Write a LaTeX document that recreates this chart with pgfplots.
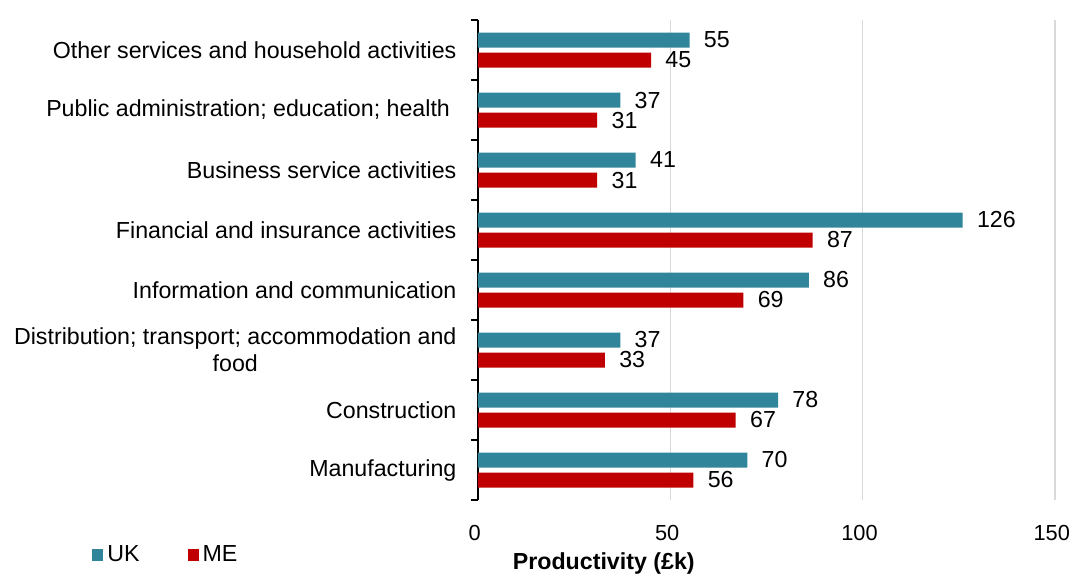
\documentclass[border=0pt]{standalone}
\usepackage{pgfplots}
\pgfplotsset{compat=1.18}
\usepackage{fontspec}
\setmainfont{Liberation Sans}

\definecolor{ukteal}{RGB}{49,133,155}
\definecolor{mered}{RGB}{192,0,0}
\definecolor{gridgrey}{RGB}{217,217,217}

\newcommand{\chartfont}{\fontsize{11.6}{13.5}\selectfont}

\begin{document}
\begin{tikzpicture}[font=\chartfont]
\begin{axis}[
    at={(0,0)}, anchor=south west,
    scale only axis,
    width=288.5pt, height=240pt,
    xbar, bar width=7.5pt,
    xmin=0, xmax=150,
    ymin=-0.5, ymax=7.5,
    /pgf/number format/assume math mode=true,
    xtick={0,50,100,150},
    xmajorgrids, grid style={gridgrey, line width=0.8pt},
    major x tick style={draw=none},
    xticklabel style={font=\fontsize{10.9}{13}\selectfont, yshift=-5pt, xshift=-1.6pt},
    ytick={0,...,7},
    yticklabels={Manufacturing, Construction, {Distribution; transport; accommodation and\\food}, Information and communication, Financial and insurance activities, Business service activities, Public administration; education; health~, Other services and household activities},
    yticklabel style={font=\chartfont, align=center, xshift=-3pt},
    major y tick style={draw=none},
    minor ytick={-0.5,0.5,...,7.5},
    minor tick length=3.5pt,
    tick align=outside,
    minor y tick style={black, line width=0.8pt},
    axis x line*=bottom,
    x axis line style={draw=none},
    axis y line*=left,
    y axis line style={black, line width=0.8pt},
    clip=false,
    nodes near coords,
    every node near coord/.append style={font=\chartfont, anchor=west, inner sep=0pt, xshift=7pt, black},
    xlabel={\textbf{Productivity (£k)}},
    xlabel style={at={(rel axis cs:0.218,0)}, anchor=center, yshift=-31.5pt, font=\chartfont},
    legend style={at={(-193pt,-27.5pt)}, anchor=west, draw=none, fill=none, font=\chartfont,
        legend columns=2, /tikz/every even column/.append style={column sep=22pt},
        inner sep=0pt},
    legend image code/.code={\fill[#1] (0pt,-3.2pt) rectangle (5.5pt,3.2pt);},
]
\addplot[fill=ukteal, draw=none, bar shift=5pt] coordinates {
    (70,0) (78,1) (37,2) (86,3) (126,4) (41,5) (37,6) (55,7)};
\addlegendentry{UK}
\addplot[fill=mered, draw=none, bar shift=-5pt] coordinates {
    (56,0) (67,1) (33,2) (69,3) (87,4) (31,5) (31,6) (45,7)};
\addlegendentry{ME}
\end{axis}
\pgfresetboundingbox
\path[use as bounding box] (-239pt,-37pt) rectangle (297pt,250pt);
\end{tikzpicture}
\end{document}
